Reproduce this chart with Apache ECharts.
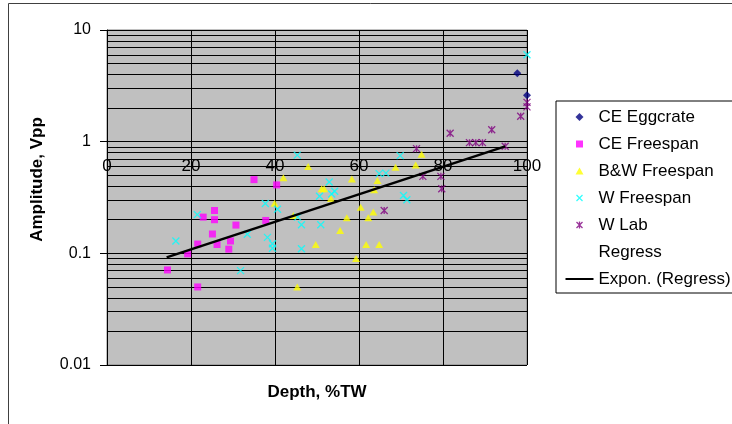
<!DOCTYPE html>
<html><head><meta charset="utf-8">
<script src="https://cdn.jsdelivr.net/npm/echarts@6/dist/echarts.min.js"></script>
<style>html,body{margin:0;padding:0;background:#fff}#c{width:732px;height:424px}</style>
</head><body><div id="c"></div>
<script>
// ---- data (Depth %TW, Amplitude Vpp) ----
const ceEggcrate = [[97.7,4.1],[100,2.6]];
const ceFreespan = [[14.4,0.071],[19.2,0.099],[21.6,0.121],[21.6,0.05],[22.9,0.211],[25.1,0.149],[25.6,0.242],[25.6,0.2],[26.2,0.12],[29.0,0.109],[29.4,0.129],[30.7,0.179],[35,0.457],[37.8,0.197],[40.4,0.41]];
const bwFreespan = [[39.9,0.281],[42.0,0.476],[44.4,0.218],[45.3,0.05],[47.9,0.60],[49.7,0.12],[51.1,0.379],[51.7,0.379],[53.3,0.309],[55.5,0.16],[57.1,0.208],[58.3,0.462],[59.3,0.09],[60.4,0.259],[61.7,0.12],[62.2,0.208],[63.4,0.234],[63.6,0.371],[64.4,0.45],[64.8,0.12],[68.7,0.59],[73.5,0.617],[74.9,0.77]];
const wFreespan = [[16.4,0.129],[21.5,0.222],[31.8,0.070],[33.4,0.148],[37.7,0.279],[38.2,0.139],[39.4,0.122],[39.4,0.111],[40.6,0.248],[45.3,0.758],[45.4,0.211],[46.3,0.18],[46.3,0.11],[50.6,0.325],[50.9,0.18],[52.9,0.435],[53.5,0.34],[54.2,0.36],[64.8,0.517],[66.4,0.523],[69.8,0.75],[70.6,0.33],[71.4,0.302],[100,6.0]];
const wLab = [[66,0.242],[73.7,0.866],[75.2,0.489],[79.5,0.489],[79.7,0.379],[81.7,1.19],[86.3,0.98],[87.8,0.98],[89.4,0.98],[91.6,1.28],[94.8,0.91],[98.5,1.69],[100,2.05],[100,2.25]];
const exponTrend = [[14.2,0.092],[94.8,0.908]];
const seriesNames = ['CE Eggcrate','CE Freespan','B&W Freespan','W Freespan','W Lab','Regress','Expon. (Regress)'];
const xTickValues = [0,20,40,60,80,100];
const yMajorTicks = [0.01,0.1,1,10];
const yMinorGrid = [0.02,0.03,0.04,0.05,0.06,0.07,0.08,0.09,0.2,0.3,0.4,0.5,0.6,0.7,0.8,0.9,2,3,4,5,6,7,8,9];

const FONT = '"Liberation Sans", Arial, sans-serif';
const X_PATH = 'path://M0,0L10,10M10,0L0,10';
const AST_PATH = 'path://M0,0L10,10M10,0L0,10M5,0L5,10';
// legend icons drawn inside a 28x8 box (the trailing moves fix the box), symbol centred
const BOX = 'M0,0M28,8';
const LEG_DIAMOND = 'path://M14,0L18,4L14,8L10,4Z' + BOX;
const LEG_RECT = 'path://M10.5,0.5L17.5,0.5L17.5,7.5L10.5,7.5Z' + BOX;
const LEG_TRI = 'path://M14,0.5L18,7.5L10,7.5Z' + BOX;
const LEG_X = 'path://M11,1L17,7M17,1L11,7' + BOX;
const LEG_AST = 'path://M11,1L17,7M17,1L11,7M14,0.5L14,7.5' + BOX;
const LEG_LINE = 'path://M0,3L28,3L28,5L0,5Z' + BOX;

const chart = echarts.init(document.getElementById('c'));
chart.setOption({
  animation: false,
  backgroundColor: '#fff',
  textStyle: {fontFamily: FONT},
  graphic: [{type:'rect', shape:{x:8.5,y:3.5,width:800,height:500}, style:{fill:'none',stroke:'#404040',lineWidth:1}, z:-10, silent:true}],
  grid: {left:107, top:30, width:420, height:335, show:true, backgroundColor:'#c0c0c0', borderColor:'#808080', borderWidth:1},
  legend: {
    orient:'vertical', left:556, top:101, padding:[6,14,4,7], itemGap:7,
    itemWidth:28, itemHeight:8, borderColor:'#000', borderWidth:1, backgroundColor:'#fff',
    symbolKeepAspect:false,
    textStyle:{fontSize:17, color:'#000', fontFamily:FONT, lineHeight:20},
    data:[
      {name:seriesNames[0], icon:LEG_DIAMOND},
      {name:seriesNames[1], icon:LEG_RECT},
      {name:seriesNames[2], icon:LEG_TRI},
      {name:seriesNames[3], icon:LEG_X, itemStyle:{color:'none', borderColor:'#00ffff', borderWidth:1.3}},
      {name:seriesNames[4], icon:LEG_AST, itemStyle:{color:'none', borderColor:'#800080', borderWidth:1.3}},
      {name:seriesNames[5], icon:'none'},
      {name:seriesNames[6], icon:LEG_LINE, itemStyle:{color:'#000', borderWidth:0}}
    ]
  },
  xAxis: {
    type:'value', min:0, max:100, interval:20, offset:-224,
    axisLine:{show:true, onZero:false, lineStyle:{color:'#000', width:1}},
    axisTick:{show:true, length:5, lineStyle:{color:'#000'}},
    axisLabel:{fontSize:17, color:'#000', margin:17, fontFamily:FONT, formatter: v => xTickValues.includes(v) ? String(v) : ''},
    splitLine:{show:true, lineStyle:{color:'#000', width:1}},
    name:'Depth, %TW', nameLocation:'middle', nameGap:243,
    nameTextStyle:{fontSize:17, fontWeight:'bold', color:'#000', fontFamily:FONT}
  },
  yAxis: {
    type:'log', logBase:10, min:0.01, max:10,
    axisLine:{show:true, lineStyle:{color:'#000', width:1}},
    axisTick:{show:true, length:7, lineStyle:{color:'#000'}},
    axisLabel:{fontSize:16, color:'#000', margin:16, fontFamily:FONT, formatter: v => {
      const m = yMajorTicks.find(t => Math.abs(Math.log10(t) - Math.log10(v)) < 1e-6); return m === undefined ? '' : String(m);}},
    splitLine:{show:true, lineStyle:{color:'#000', width:1}},
    name:'Amplitude, Vpp', nameLocation:'middle', nameGap:61, nameRotate:90,
    nameTextStyle:{fontSize:17, fontWeight:'bold', color:'#000', fontFamily:FONT, padding:[0,0,0,36]}
  },
  series: [
    {name:seriesNames[0], type:'scatter', data:ceEggcrate, symbol:'diamond', symbolSize:8, itemStyle:{color:'#000080'}, z:3},
    {name:seriesNames[1], type:'scatter', data:ceFreespan, symbol:'rect', symbolSize:7, itemStyle:{color:'#ff00ff'}, z:3},
    {name:seriesNames[2], type:'scatter', data:bwFreespan, symbol:'triangle', symbolSize:[8,7], itemStyle:{color:'#ffff00'}, z:3},
    {name:seriesNames[3], type:'scatter', data:wFreespan, symbol:X_PATH, symbolSize:7, itemStyle:{color:'none', borderColor:'#00ffff', borderWidth:1.3}, z:3},
    {name:seriesNames[4], type:'scatter', data:wLab, symbol:AST_PATH, symbolSize:7, itemStyle:{color:'none', borderColor:'#800080', borderWidth:1.3}, z:3},
    {name:seriesNames[5], type:'scatter', data:[], symbol:'none', itemStyle:{color:'#000'},
      markLine:{silent:true, symbol:['none','none'], z:1, animation:false, label:{show:false},
        lineStyle:{color:'#000', width:1, type:'solid'},
        data: yMinorGrid.map(v => ({yAxis:v}))}},
    {name:seriesNames[6], type:'line', data:exponTrend, symbol:'none', lineStyle:{color:'#000', width:2.5}, itemStyle:{color:'#000'}, z:4}
  ]
});
</script>
</body></html>
